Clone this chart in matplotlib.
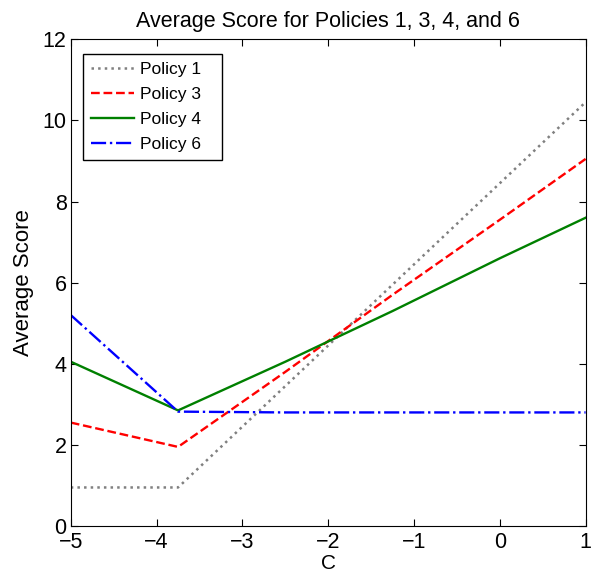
import matplotlib.pyplot as plt

# policy curves (piecewise linear)
c = [-5, -3.75, -2.5, -1.25, 0, 1]
policy1 = [0.95, 0.95, 3.45, 5.95, 8.45, 10.45]
policy3 = [2.55, 1.95, 3.8, 5.7, 7.55, 9.05]
policy4 = [4.05, 2.85, 4.05, 5.3, 6.6, 7.6]
policy6 = [5.2, 2.82, 2.8, 2.8, 2.8, 2.8]

plt.rcParams['font.family'] = ['Liberation Sans', 'DejaVu Sans']

fig = plt.figure(figsize=(6, 5.76), dpi=100)
ax = fig.add_axes([0.118, 0.0868, 0.858, 0.845])

ax.plot(c, policy1, color='0.5', linestyle=':', linewidth=1.8, label='Policy 1')
ax.plot(c, policy3, color='red', linestyle='--', linewidth=1.7, label='Policy 3')
ax.plot(c, policy4, color='green', linestyle='-', linewidth=1.7, label='Policy 4')
ax.plot(c, policy6, color='blue', linestyle='-.', linewidth=1.7, label='Policy 6')

ax.set_xlim(-5, 1)
ax.set_ylim(0, 12)
ax.set_xticks(range(-5, 2))
ax.set_yticks(range(0, 13, 2))
ax.tick_params(direction='in', top=True, right=True, labelsize=15.5, length=5)
ax.tick_params(axis='x', pad=4)
ax.tick_params(axis='y', pad=3)
ax.set_xticklabels([str(v).replace('-', '\u2212') for v in range(-5, 2)])

ax.set_xlabel('C', fontsize=15, labelpad=1)
ax.set_ylabel('Average Score', fontsize=16, labelpad=6)
ax.set_title('Average Score for Policies 1, 3, 4, and 6', fontsize=15.5, pad=9)

leg = ax.legend(loc='upper left', bbox_to_anchor=(0.024, 0.969, 0.27, 0.0),
                mode='expand', borderaxespad=0, fontsize=12.5, fancybox=False,
                edgecolor='black', handlelength=2.5, handletextpad=0.3,
                borderpad=0.45, labelspacing=0.57, framealpha=1)
leg.get_frame().set_linewidth(1.0)

fig.savefig('out.png', dpi=100)
